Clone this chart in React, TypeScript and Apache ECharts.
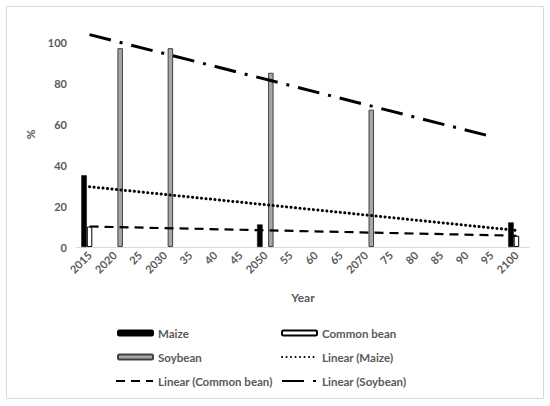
import React, { useEffect, useRef } from "react";
import * as echarts from "echarts";

const categories = ["2015", "2020", "25", "2030", "35", "40", "45", "2050", "55", "60", "65", "2070", "75", "80", "85", "90", "95", "2100"];
const maize = [35, null, null, null, null, null, null, 11, null, null, null, null, null, null, null, null, null, 12];
const commonBean = [10, null, null, null, null, null, null, null, null, null, null, null, null, null, null, null, null, 5.5];
const soybean = [null, 97, null, 97, null, null, null, 85, null, null, null, 67, null, null, null, null, null, null];
const trendMaize = [29.4, null, null, null, null, null, null, null, null, null, null, null, null, null, null, null, null, 8.1];
const trendCommonBean = [10, null, null, null, null, null, null, null, null, null, null, null, null, null, null, null, null, 5.5];
const trendSoybean = [103.6, null, null, null, null, null, null, null, null, null, null, null, null, null, null, null, 53.9, null];

const FONT = 'Lato, "Open Sans", sans-serif';
const GREY = "#595959";

export default function App() {
  const ref = useRef<HTMLDivElement>(null);
  useEffect(() => {
    if (!ref.current) return;
    const chart = echarts.init(ref.current, null, { renderer: "svg" });
    const legendText = { fontFamily: FONT, fontWeight: "bold", fontSize: 11.5, color: GREY };
    const mkLegend = (name: string, left: number, cy: number, w: number, h: number, isLine: boolean) => {
      const l: any = {
        data: [name],
        left,
        top: cy - 7,
        padding: 0,
        itemWidth: w,
        itemHeight: h,
        textStyle: legendText,
        selectedMode: false,
      };
      if (isLine) {
        l.itemStyle = { color: "rgba(0,0,0,0)", borderWidth: 0, opacity: 0 };
      }
      return l;
    };
    chart.setOption({
      animation: false,
      backgroundColor: "#ffffff",
      textStyle: { fontFamily: FONT },
      grid: { left: 77, right: 21, top: 21.5, bottom: 159 },
      graphic: [
        {
          type: "rect",
          shape: { x: 6.5, y: 6.5, width: 537, height: 392 },
          style: { fill: "none", stroke: "#d9d9d9", lineWidth: 1 },
          silent: true,
        },
      ],
      legend: [
        mkLegend("Maize", 117, 334, 35, 5, false),
        mkLegend("Common bean", 281, 334, 35, 5, false),
        mkLegend("Soybean", 117, 358, 35, 5, false),
        mkLegend("Linear (Maize)", 281, 358, 35, 14, true),
        mkLegend("Linear (Common bean)", 115, 382, 37, 14, true),
        mkLegend("Linear (Soybean)", 281, 382, 35, 14, true),
      ],
      xAxis: {
        type: "category",
        data: categories,
        boundaryGap: true,
        name: "Year",
        nameLocation: "middle",
        nameGap: 44,
        nameTextStyle: { fontFamily: FONT, fontWeight: "bold", fontSize: 12, color: GREY },
        axisLine: { lineStyle: { color: "#d9d9d9", width: 1 } },
        axisTick: { show: false },
        axisLabel: {
          rotate: 45,
          interval: 0,
          margin: 6,
          fontFamily: FONT,
          fontWeight: "bold",
          fontSize: 11,
          color: GREY,
        },
        splitLine: { show: false },
      },
      yAxis: {
        type: "value",
        min: 0,
        max: 110,
        interval: 20,
        name: "%",
        nameLocation: "middle",
        nameGap: 40,
        nameTextStyle: { fontFamily: FONT, fontWeight: "bold", fontSize: 12, color: GREY },
        axisLine: { show: false },
        axisTick: { show: false },
        splitLine: { show: false },
        axisLabel: {
          showMaxLabel: false,
          margin: 10,
          fontFamily: FONT,
          fontWeight: "bold",
          fontSize: 11,
          color: GREY,
        },
      },
      series: [
        {
          name: "Maize",
          type: "bar",
          data: maize,
          barWidth: 5.5,
          barGap: "0%",
          itemStyle: { color: "#000000", borderColor: "#000000", borderWidth: 0.5 },
        },
        {
          name: "Common bean",
          type: "bar",
          data: commonBean,
          barWidth: 5.5,
          barGap: "0%",
          itemStyle: { color: "#ffffff", borderColor: "#000000", borderWidth: 1 },
        },
        {
          name: "Soybean",
          type: "bar",
          data: soybean,
          barWidth: 5.5,
          barGap: "0%",
          itemStyle: { color: "#a6a6a6", borderColor: "#404040", borderWidth: 1 },
        },
        {
          name: "Linear (Maize)",
          type: "line",
          data: trendMaize,
          connectNulls: true,
          symbol: "none",
          clip: false,
          z: 5,
          lineStyle: { color: "#000000", width: 3, type: [0.1, 4.4], cap: "round" },
          itemStyle: { color: "#000000" },
        },
        {
          name: "Linear (Common bean)",
          type: "line",
          data: trendCommonBean,
          connectNulls: true,
          symbol: "none",
          clip: false,
          z: 5,
          lineStyle: { color: "#000000", width: 2.2, type: [9, 6] },
          itemStyle: { color: "#000000" },
        },
        {
          name: "Linear (Soybean)",
          type: "line",
          data: trendSoybean,
          connectNulls: true,
          symbol: "none",
          clip: false,
          z: 5,
          lineStyle: { color: "#000000", width: 3, type: [22, 9, 3, 9] },
          itemStyle: { color: "#000000" },
        },
      ],
    });
    return () => chart.dispose();
  }, []);
  return (
    <div
      ref={ref}
      style={{ position: "absolute", left: 0, top: 0, width: 550, height: 406, background: "#fff" }}
    />
  );
}
